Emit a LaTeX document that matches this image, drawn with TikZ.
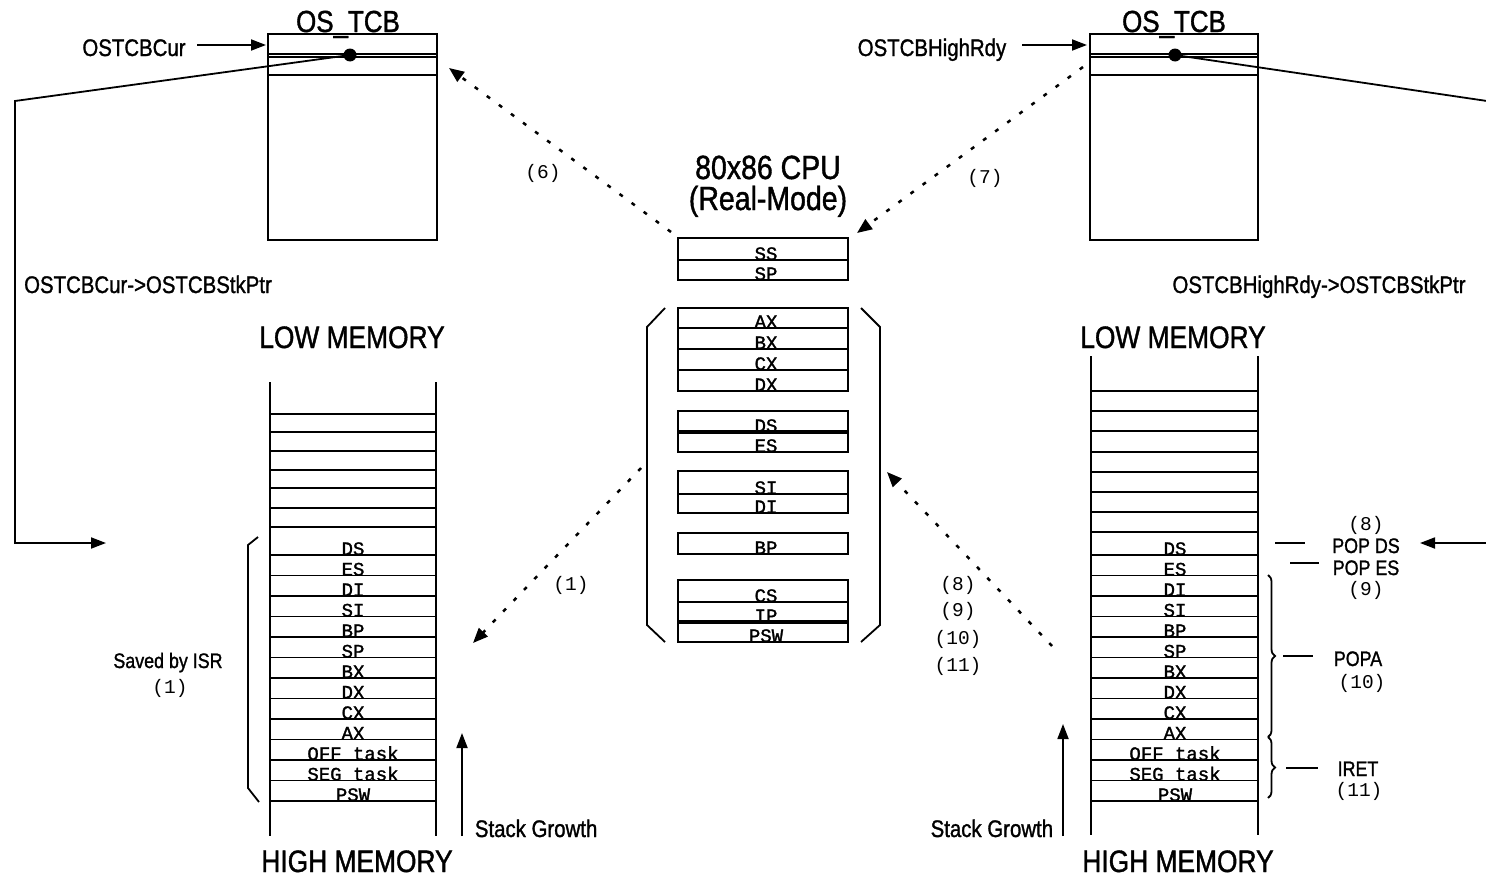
\documentclass[tikz,border=0pt]{standalone}
\usepackage{fontspec}
\setmainfont{Liberation Sans}
\newfontfamily\narrowsans[FakeStretch=0.85,FakeBold=1.2]{Liberation Sans}
\newfontfamily\monof{Liberation Mono}
\newfontfamily\monob[FakeBold=1.5]{Liberation Mono}
\usetikzlibrary{arrows.meta,decorations.pathreplacing}
\begin{document}
\begin{tikzpicture}[x=1pt,y=-1pt,line width=1.8pt,
  lbl/.style={font=\narrowsans\fontsize{24}{24}\selectfont,inner sep=0pt,anchor=base},
  memlbl/.style={font=\narrowsans\fontsize{31}{31}\selectfont,inner sep=0pt,anchor=base},
  title/.style={font=\narrowsans\fontsize{30.5}{30.5}\selectfont,inner sep=0pt,anchor=base},
  cpulbl/.style={font=\narrowsans\fontsize{33.5}{33.5}\selectfont,inner sep=0pt,anchor=base},
  small/.style={font=\narrowsans\fontsize{21}{21}\selectfont,inner sep=0pt,anchor=base},
  num/.style={font=\monof\fontsize{19.5}{19.5}\selectfont,inner sep=0pt},
  reg/.style={font=\monob\fontsize{19}{19}\selectfont,inner sep=0pt,anchor=base},
  dasharr/.style={line width=2.5pt,dash pattern=on 4pt off 11pt,-{Triangle[length=15pt,width=12pt]}},
  solidarr/.style={line width=1.8pt,-{Triangle[length=15pt,width=11pt]}},
  thin/.style={line width=1.8pt},
  thick2/.style={line width=3.2pt}]
\useasboundingbox (0,0) rectangle (1486,878);

% ---------- left OS_TCB ----------
\node[title] (tcbLt) at (348,32) {OS\_TCB};
\draw[thin] (268,34) rectangle (437,240);
\draw[thin] (268,54) -- (437,54);
\draw[thin] (268,57) -- (437,57);
\draw[thin] (268,75) -- (437,75);
\node[lbl] (curL) at (134,56) {OSTCBCur};
\coordinate (curA) at (197,45);
\coordinate (curB) at (266,45);
\draw[solidarr] (curA) -- (curB);
\coordinate (dotL) at (350,55);
\fill (dotL) circle (6.5pt);
\coordinate (bendL1) at (15,101);
\coordinate (bendL2) at (15,543);
\coordinate (tipL) at (106,543);
\draw[solidarr] (dotL) -- (bendL1) -- (bendL2) -- (tipL);
\node[lbl] (stkL) at (148,293) {OSTCBCur->OSTCBStkPtr};
\node[memlbl] (lowL) at (352,348) {LOW MEMORY};
\node[memlbl] (highL) at (357,872) {HIGH MEMORY};

% ---------- right OS_TCB ----------
\node[title] (tcbRt) at (1174,32) {OS\_TCB};
\draw[thin] (1090,34) rectangle (1258,240);
\draw[thin] (1090,54) -- (1258,54);
\draw[thin] (1090,57) -- (1258,57);
\draw[thin] (1090,75) -- (1258,75);
\node[lbl] (hiR) at (932,56) {OSTCBHighRdy};
\coordinate (hiA) at (1022,45);
\coordinate (hiB) at (1087,45);
\draw[solidarr] (hiA) -- (hiB);
\coordinate (dotR) at (1175,55);
\fill (dotR) circle (6.5pt);
\coordinate (edgeR) at (1487,101);
\draw[thin] (dotR) -- (edgeR);
\node[lbl] (stkR) at (1319,293) {OSTCBHighRdy->OSTCBStkPtr};
\node[memlbl] (lowR) at (1173,348) {LOW MEMORY};
\node[memlbl] (highR) at (1178,872) {HIGH MEMORY};

% ---------- CPU ----------
\node[cpulbl] (cpu1) at (768,179) {80x86 CPU};
\node[cpulbl] (cpu2) at (768,210) {(Real-Mode)};
\draw[thin] (678,238) rectangle (848,280);
\draw[thin] (678,260) -- (848,260);
\draw[thin] (678,308) rectangle (848,391);
\foreach \y in {328,349,370} \draw[thin] (678,\y) -- (848,\y);
\draw[thin] (678,411) rectangle (848,452);
\draw[thick2] (678,432) -- (848,432);
\draw[thin] (678,471) rectangle (848,513);
\draw[thin] (678,494) -- (848,494);
\draw[thin] (678,533) rectangle (848,554);
\draw[thin] (678,580) rectangle (848,642);
\draw[thin] (678,602) -- (848,602);
\draw[thick2] (678,622) -- (848,622);
\foreach \t/\y in {SS/260,SP/280,AX/328,BX/349,CX/370,DX/391,DS/432,ES/452,SI/494,DI/513,BP/554,CS/602,IP/622,PSW/642}
  \node[reg] at (766,\y) {\t};
\draw[thin] (665,308) -- (647,327) -- (647,625) -- (665,642);
\draw[thin] (861,308) -- (880,327) -- (880,625) -- (861,642);

% ---------- left stack ----------
\draw[thin] (270,382) -- (270,836);
\draw[thin] (436,382) -- (436,836);
\foreach \y in {414,432,451,470,488,508,527} \draw[thin] (270,\y) -- (436,\y);
\foreach \y in {555,575.5,596,616.5,637,657.5,678,698.5,719,739.5,760,780.5,801}
  \draw[thin] (270,\y) -- (436,\y);
\foreach \t/\y in {DS/555,ES/575.5,DI/596,SI/616.5,BP/637,SP/657.5,BX/678,DX/698.5,CX/719,AX/739.5,OFF task/760,SEG task/780.5,PSW/801}
  \node[reg] at (353,\y) {\t};
\draw[thin] (258,537) -- (248,545) -- (248,788) -- (259,802);
\node[small] (isr) at (168,668) {Saved by ISR};
\node[num] (isr1) at (170,688) {(1)};
\coordinate (sgL1) at (462,836);
\coordinate (sgL2) at (462,733);
\draw[solidarr] (sgL1) -- (sgL2);
\node[lbl,anchor=base west] (sgLt) at (474,837) {Stack Growth};

% ---------- right stack ----------
\draw[thin] (1091,356) -- (1091,835);
\draw[thin] (1258,356) -- (1258,835);
\foreach \y in {391,411,431,452,472,492,512,532} \draw[thin] (1091,\y) -- (1258,\y);
\foreach \y in {555,575.5,596,616.5,637,657.5,678,698.5,719,739.5,760,780.5,801}
  \draw[thin] (1091,\y) -- (1258,\y);
\foreach \t/\y in {DS/555,ES/575.5,DI/596,SI/616.5,BP/637,SP/657.5,BX/678,DX/698.5,CX/719,AX/739.5,OFF task/760,SEG task/780.5,PSW/801}
  \node[reg] at (1175,\y) {\t};
\draw[thin,decorate,decoration={brace,amplitude=7pt}] (1268,575) -- (1268,737);
\draw[thin,decorate,decoration={brace,amplitude=7pt}] (1268,737) -- (1268,798);
\coordinate (sgR1) at (1063,836);
\coordinate (sgR2) at (1063,724);
\draw[solidarr] (sgR1) -- (sgR2);
\node[lbl,anchor=base east] (sgRt) at (1054,837) {Stack Growth};

\node[num] (n8r) at (1366,525) {(8)};
\node[small] (popds) at (1366,553) {POP DS};
\node[small] (popes) at (1366,575) {POP ES};
\node[num] (n9r) at (1366,590) {(9)};
\node[small] (popa) at (1358,666) {POPA};
\node[num] (n10r) at (1362,683) {(10)};
\node[small] (iret) at (1358,776) {IRET};
\node[num] (n11r) at (1359,791) {(11)};
\draw[thin] (1275,543) -- (1305,543);
\draw[thin] (1290,563) -- (1319,563);
\draw[thin] (1283,656) -- (1313,656);
\draw[thin] (1286,768) -- (1318,768);
\coordinate (popIn) at (1487,543);
\coordinate (popTip) at (1420,543);
\draw[solidarr] (popIn) -- (popTip);

% ---------- dashed transfers ----------
\coordinate (a6s) at (671,232);
\coordinate (a6e) at (449,68);
\draw[dasharr] (a6s) -- (a6e);
\node[num] (l6) at (543,173) {(6)};
\coordinate (a7s) at (1083,67);
\coordinate (a7e) at (857,233);
\draw[dasharr] (a7s) -- (a7e);
\node[num] (l7) at (985,178) {(7)};
\coordinate (a1s) at (641,468);
\coordinate (a1e) at (473,643);
\draw[dasharr] (a1s) -- (a1e);
\node[num] (l1) at (571,585) {(1)};
\coordinate (a8s) at (1052,646);
\coordinate (a8e) at (887,472);
\draw[dasharr] (a8s) -- (a8e);
\node[num] (l8) at (958,585) {(8)};
\node[num] (l9) at (958,611) {(9)};
\node[num] (l10) at (958,639) {(10)};
\node[num] (l11) at (958,666) {(11)};
\end{tikzpicture}
\end{document}
